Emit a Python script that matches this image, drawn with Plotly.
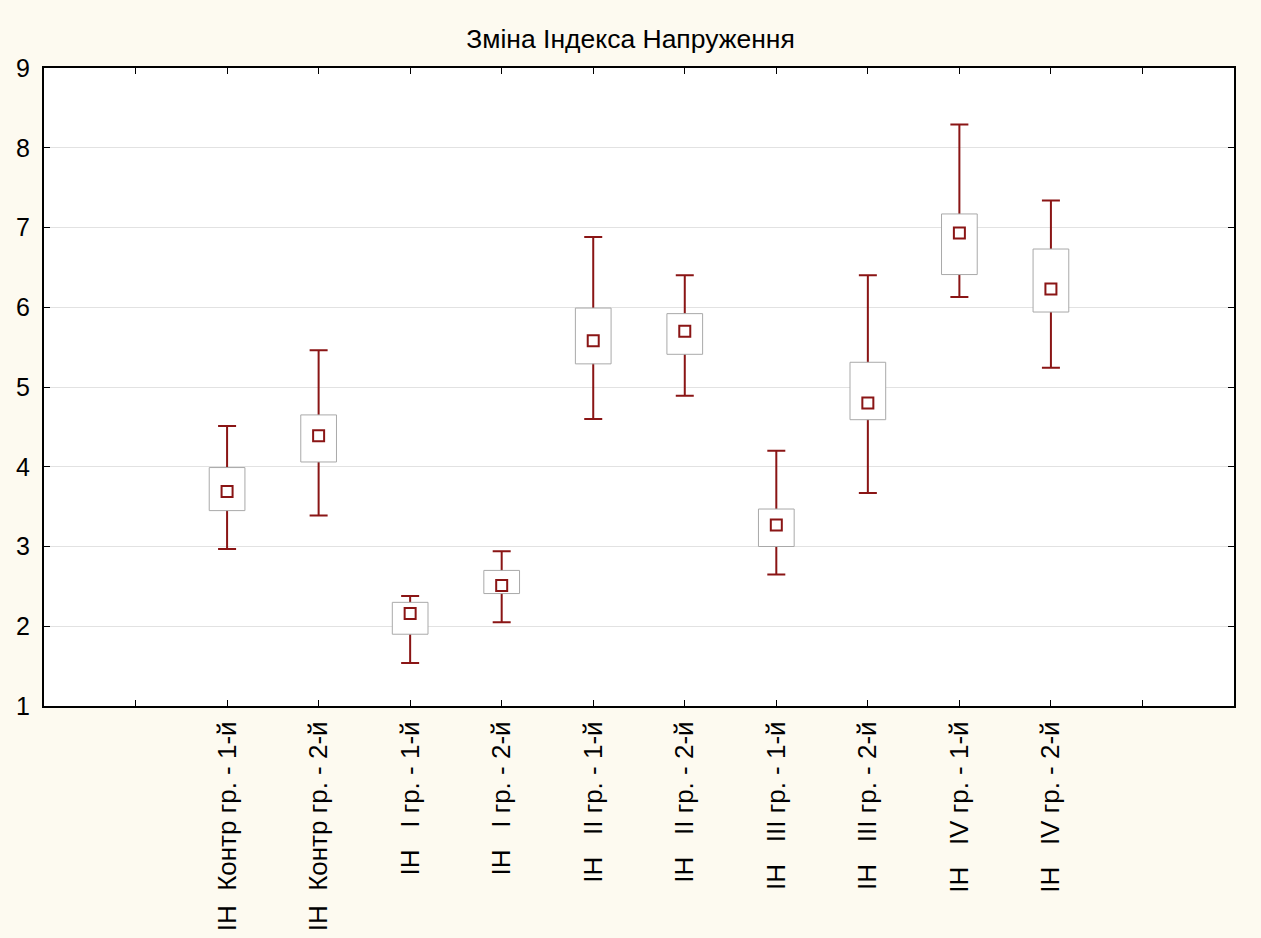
import plotly.graph_objects as go

# Index of stress (ІН) by group and stage: mean, box (mean ± SE) and whiskers
labels = [
    "ІН\u00a0\u00a0Контр гр. - 1-й",
    "ІН\u00a0\u00a0Контр гр. - 2-й",
    "ІН\u00a0\u00a0\u00a0I гр. - 1-й",
    "ІН\u00a0\u00a0\u00a0I гр. - 2-й",
    "ІН\u00a0\u00a0\u00a0II гр. - 1-й",
    "ІН\u00a0\u00a0\u00a0II гр. - 2-й",
    "ІН\u00a0\u00a0\u00a0III гр. - 1-й",
    "ІН\u00a0\u00a0\u00a0III гр. - 2-й",
    "ІН\u00a0\u00a0\u00a0IV гр. - 1-й",
    "ІН\u00a0\u00a0\u00a0IV гр. - 2-й",
]
mean_vals = [3.69, 4.39, 2.16, 2.51, 5.58, 5.70, 3.27, 4.80, 6.93, 6.23]
box_low = [3.45, 4.06, 1.90, 2.41, 5.29, 5.41, 3.00, 4.59, 6.41, 5.94]
box_high = [3.99, 4.65, 2.30, 2.70, 5.99, 5.92, 3.47, 5.31, 7.17, 6.73]
whisk_low = [2.97, 3.39, 1.54, 2.05, 4.60, 4.89, 2.65, 3.67, 6.13, 5.24]
whisk_high = [4.51, 5.46, 2.38, 2.94, 6.88, 6.40, 4.20, 6.40, 8.29, 7.34]

y_ticks = [1, 2, 3, 4, 5, 6, 7, 8, 9]

RED = "#8a1515"
BOX_LINE = "#a9a9a9"
BOX_HALF = 0.195

xs = list(range(1, len(labels) + 1))

fig = go.Figure()

# whiskers: full range from the mean, boxes are drawn over them
fig.add_trace(go.Scatter(
    x=xs, y=mean_vals, mode="markers",
    marker=dict(size=1, opacity=0),
    error_y=dict(
        type="data", symmetric=False,
        array=[h - m for h, m in zip(whisk_high, mean_vals)],
        arrayminus=[m - l for m, l in zip(mean_vals, whisk_low)],
        color=RED, thickness=2, width=9,
    ),
    hoverinfo="skip", showlegend=False,
))

# boxes as closed white polygons
bx, by = [], []
for x, lo, hi in zip(xs, box_low, box_high):
    bx += [x - BOX_HALF, x + BOX_HALF, x + BOX_HALF, x - BOX_HALF, x - BOX_HALF, None]
    by += [lo, lo, hi, hi, lo, None]
fig.add_trace(go.Scatter(
    x=bx, y=by, mode="lines", fill="toself", fillcolor="white",
    line=dict(color=BOX_LINE, width=1),
    hoverinfo="skip", showlegend=False,
))

# mean markers
fig.add_trace(go.Scatter(
    x=xs, y=mean_vals, mode="markers",
    marker=dict(symbol="square", size=11, color="white",
                line=dict(color=RED, width=2)),
    showlegend=False,
))

fig.update_layout(
    width=1261, height=938,
    paper_bgcolor="#fdfaf0",
    plot_bgcolor="white",
    margin=dict(l=44, r=27, t=68, b=232),
    font=dict(family="Liberation Sans, Arial, sans-serif", color="black"),
    title=dict(
        text="Зміна Індекса Напруження",
        x=0.5, xref="container", xanchor="center",
        y=1 - 39 / 938, yref="container", yanchor="middle",
        font=dict(size=26.5, color="black"),
    ),
)

fig.update_xaxes(
    range=[-1, len(labels) + 2],
    tickmode="array",
    tickvals=[0] + xs + [len(labels) + 1],
    ticktext=[""] + labels + [""],
    tickangle=-90,
    tickfont=dict(size=26),
    ticklabelstandoff=3,
    automargin=False,
    ticks="inside", ticklen=6, tickwidth=1, tickcolor="black",
    showline=True, linecolor="black", linewidth=2, mirror="ticks",
    showgrid=False, zeroline=False,
)
fig.update_yaxes(
    range=[1, 9],
    tickmode="array", tickvals=y_ticks,
    tickfont=dict(size=25),
    ticklabelstandoff=7,
    automargin=False,
    ticks="inside", ticklen=6, tickwidth=1, tickcolor="black",
    showline=True, linecolor="black", linewidth=2, mirror="ticks",
    showgrid=True, gridcolor="#e2e2e2", gridwidth=1,
    zeroline=False,
)

fig.write_html("out.html")
